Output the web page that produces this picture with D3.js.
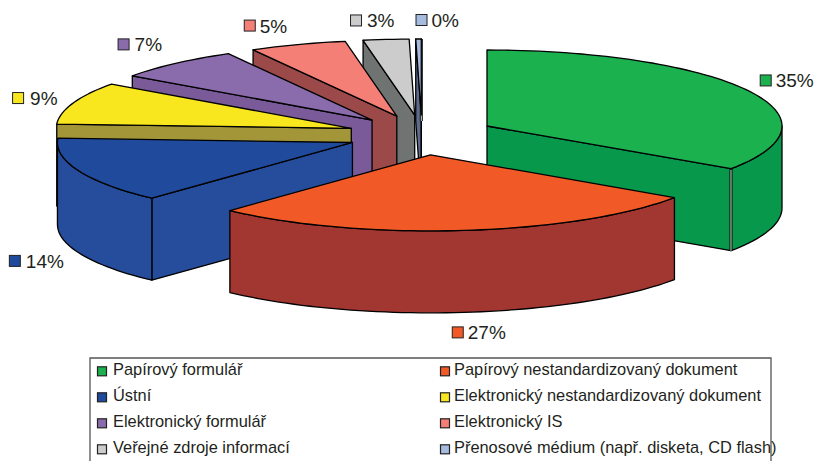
<!DOCTYPE html>
<html>
<head>
<meta charset="utf-8">
<style>
  body { margin: 0; background: #fff; }
  text { font-family: "Liberation Sans", Arial, sans-serif; fill: #231f20; }
  .edge { stroke: #000; stroke-width: 1.3; stroke-linejoin: round; }
</style>
<script src="https://d3js.org/d3.v7.min.js"></script>
</head>
<body>
<svg id="chart" width="816" height="461"></svg>
<script>
  // shares; the labels show them rounded
  var categories = [
    "Papírový formulář", "Papírový nestandardizovaný dokument",
    "Ústní", "Elektronický nestandardizovaný dokument",
    "Elektronický formulář", "Elektronický IS",
    "Veřejné zdroje informací", "Přenosové médium (např. disketa, CD flash)"
  ]
  var values = [34.5, 27.4, 14, 9, 7, 5.3, 2.5, 0.3]
  var labels = ["35%", "27%", "14%", "9%", "7%", "5%", "3%", "0%"]
  var topColors = ["#1cb14f", "#f15a26", "#204a9c", "#f8e71f", "#8a6bac", "#f47f77", "#cccccc", "#a7bbdf"]
  var wallColors = ["#07984c", "#a23630", "#254d9b", "#a39639", "#7a5a98", "#9c4a49", "#6f7371", "#5f6b8c"]

  var svg = d3.select("#chart")
  var cx = 422, cy = 135
  var rx = 295, ry = 76, depth = 82
  var explodeX = 75, explodeY = 20

  // the green slice sits apart from the rest in the original
  var apexOverride = { 0: [487, 126] }
  // label offset from the rim point of each slice
  var labelNudge = [[18, -10], [-6, 20], [-64, 8], [-55, -5], [-52, -19], [-48, -19], [-30, -19], [3, -19]]
  var labelGap = [10, 10, 11, 12, 11, 10, 11, 10]

  var x = d3.scaleLinear().domain([-1, 1]).range([-rx, rx])
  var y = d3.scaleLinear().domain([-1, 1]).range([-ry, ry])
  var line = d3.line()

  var slices = d3.pie().sort(null)(values).map((d) => {
    var mid = (d.startAngle + d.endAngle) / 2
    var apex = apexOverride[d.index] || [cx + explodeX * Math.sin(mid), cy - explodeY * Math.cos(mid)]
    return { i: d.index, a0: d.startAngle, a1: d.endAngle, mid: mid, apex: apex }
  })

  function rim(s, a) {
    return [s.apex[0] + x(Math.sin(a)), s.apex[1] + y(-Math.cos(a))]
  }
  function arcPoints(s, a0, a1) {
    var n = Math.max(2, Math.ceil((a1 - a0) / 0.03))
    return d3.range(n + 1).map((k) => rim(s, a0 + (a1 - a0) * k / n))
  }
  function down(p) { return [p[0], p[1] + depth] }

  function radialWall(s, a) {
    var p = rim(s, a)
    return [s.apex, p, down(p), down(s.apex)]
  }

  // back to front
  var order = [7, 6, 5, 4, 3, 2, 0, 1]
  order.forEach((i) => {
    var s = slices[i]
    var g = svg.append("g")
    var walls = []
    if (Math.sin(s.a0) < 0) walls.push(radialWall(s, s.a0))
    if (Math.sin(s.a1) > 0) walls.push(radialWall(s, s.a1))
    // outer wall only where the rim faces the viewer
    var f0 = Math.max(s.a0, Math.PI / 2), f1 = Math.min(s.a1, 3 * Math.PI / 2)
    if (f1 > f0) {
      var pts = arcPoints(s, f0, f1)
      walls.push(pts.concat(pts.map(down).reverse()))
    }
    walls.forEach((w) => {
      g.append("path").attr("class", "edge").attr("fill", wallColors[i]).attr("d", line(w) + "Z")
    })
    // thin light seam where the green walls meet
    if (Math.sin(s.a1) > 0) {
      var p = rim(s, s.a1)
      g.append("path").attr("stroke", "#000").attr("stroke-width", 3).attr("d", line([p, down(p)]))
      g.append("path").attr("stroke", "#d5e6da").attr("stroke-width", 1).attr("d", line([[p[0], p[1] + 1], down(p)]))
    }
    g.append("path").attr("class", "edge").attr("fill", topColors[i])
      .attr("d", line([s.apex].concat(arcPoints(s, s.a0, s.a1))) + "Z")
  })

  // value labels
  slices.forEach((s) => {
    var p = rim(s, s.mid)
    var bx = p[0] + labelNudge[s.i][0]
    var by = p[1] + labelNudge[s.i][1] + (Math.cos(s.mid) < 0 ? depth : 0)
    svg.append("rect").attr("x", bx - 5.5).attr("y", by - 5.5).attr("width", 11).attr("height", 11)
      .attr("fill", topColors[s.i]).attr("stroke", "#222").attr("stroke-width", 1)
    svg.append("text").attr("x", bx + labelGap[s.i]).attr("y", by + 7).attr("font-size", 19).text(labels[s.i])
  })

  // legend, open at the bottom where the page cuts it off
  var legendX = 90, legendY = 358, legendW = 681
  svg.append("path").attr("fill", "none").attr("stroke", "#555").attr("stroke-width", 1.3)
    .attr("d", line([[legendX, 461], [legendX, legendY], [legendX + legendW, legendY], [legendX + legendW, 461]]))
  var swatchX = d3.scaleOrdinal().domain([0, 1]).range([97.5, 440.5])
  var textX = d3.scaleOrdinal().domain([0, 1]).range([113, 454])
  var row = d3.scalePoint().domain(d3.range(4)).range([371.3, 449.3])
  categories.forEach((c, i) => {
    var ly = row(Math.floor(i / 2))
    svg.append("rect").attr("x", swatchX(i % 2)).attr("y", ly - 4.5).attr("width", 9).attr("height", 9)
      .attr("fill", topColors[i]).attr("stroke", "#222").attr("stroke-width", 1.2)
    svg.append("text").attr("x", textX(i % 2)).attr("y", ly + 4).attr("font-size", 16.4).text(c)
  })
</script>
</body>
</html>
